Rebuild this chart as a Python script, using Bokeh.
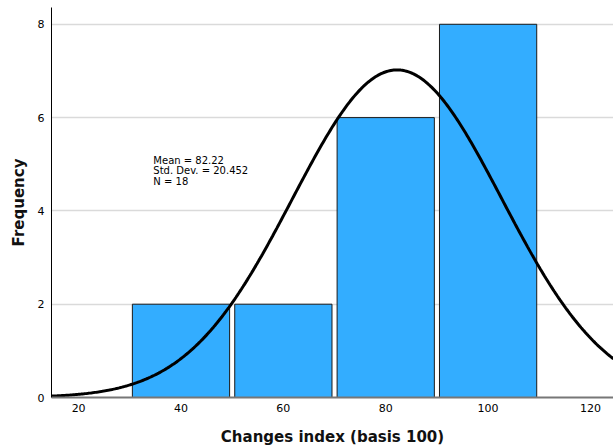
import numpy as np
from bokeh.plotting import figure
from bokeh.models import Range1d, FixedTicker, Label
from bokeh.embed import file_html
from bokeh.resources import INLINE

bin_centers = [40, 60, 80, 100]
counts = [2, 2, 6, 8]
bin_width = 20
mean = 82.22
std = 20.452
n = 18
x_ticks = [20, 40, 60, 80, 100, 120]
y_ticks = [0, 2, 4, 6, 8]
stats_lines = ["Mean = 82.22", "Std. Dev. = 20.452", "N = 18"]

FONT = "DejaVu Sans"

p = figure(width=613, height=448, output_backend="svg", toolbar_location=None,
           x_range=Range1d(14.7, 124.5), y_range=Range1d(0, 8.36),
           min_border_left=51, min_border_right=0, min_border_top=7, min_border_bottom=49)
p.outline_line_color = None
p.background_fill_color = "white"

p.vbar(x=bin_centers, top=counts, bottom=0, width=bin_width * 0.95,
       fill_color="#33adff", line_color="#1a1a1a", line_width=1)

xs = np.linspace(14.7, 124.5, 400)
ys = n * bin_width / (std * np.sqrt(2 * np.pi)) * np.exp(-0.5 * ((xs - mean) / std) ** 2)
p.line(xs, ys, line_color="black", line_width=3)

for i, t in enumerate(stats_lines):
    p.add_layout(Label(x=34.6, y=5.2, y_offset=-i * 10.5, text=t, text_font=FONT,
                       text_font_size="10px", text_baseline="top", text_color="black"))

p.xaxis.ticker = FixedTicker(ticks=x_ticks)
p.yaxis.ticker = FixedTicker(ticks=y_ticks)
for ax in (p.xaxis, p.yaxis):
    ax.major_tick_out = 0
    ax.major_tick_in = 0
    ax.minor_tick_out = 0
    ax.minor_tick_in = 0
    ax.major_label_text_font = FONT
    ax.major_label_text_font_size = "11px"
    ax.major_label_text_color = "black"
    ax.axis_label_text_font = FONT
    ax.axis_label_text_font_size = "15px"
    ax.axis_label_text_font_style = "bold"
    ax.axis_label_text_color = "#111111"
p.xaxis.axis_label = "Changes index (basis 100)"
p.yaxis.axis_label = "Frequency"
p.xaxis.axis_line_color = "#777777"
p.xaxis.axis_line_width = 2
p.yaxis.axis_line_color = "black"
p.yaxis.axis_line_width = 1
p.xaxis.major_label_standoff = 6
p.yaxis.major_label_standoff = 7
p.xaxis.axis_label_standoff = 13
p.yaxis.axis_label_standoff = 7

p.xgrid.grid_line_color = None
p.ygrid.grid_line_color = "#dadada"
p.ygrid.grid_line_width = 1.5

open("out.html", "w").write(file_html(p, INLINE))
